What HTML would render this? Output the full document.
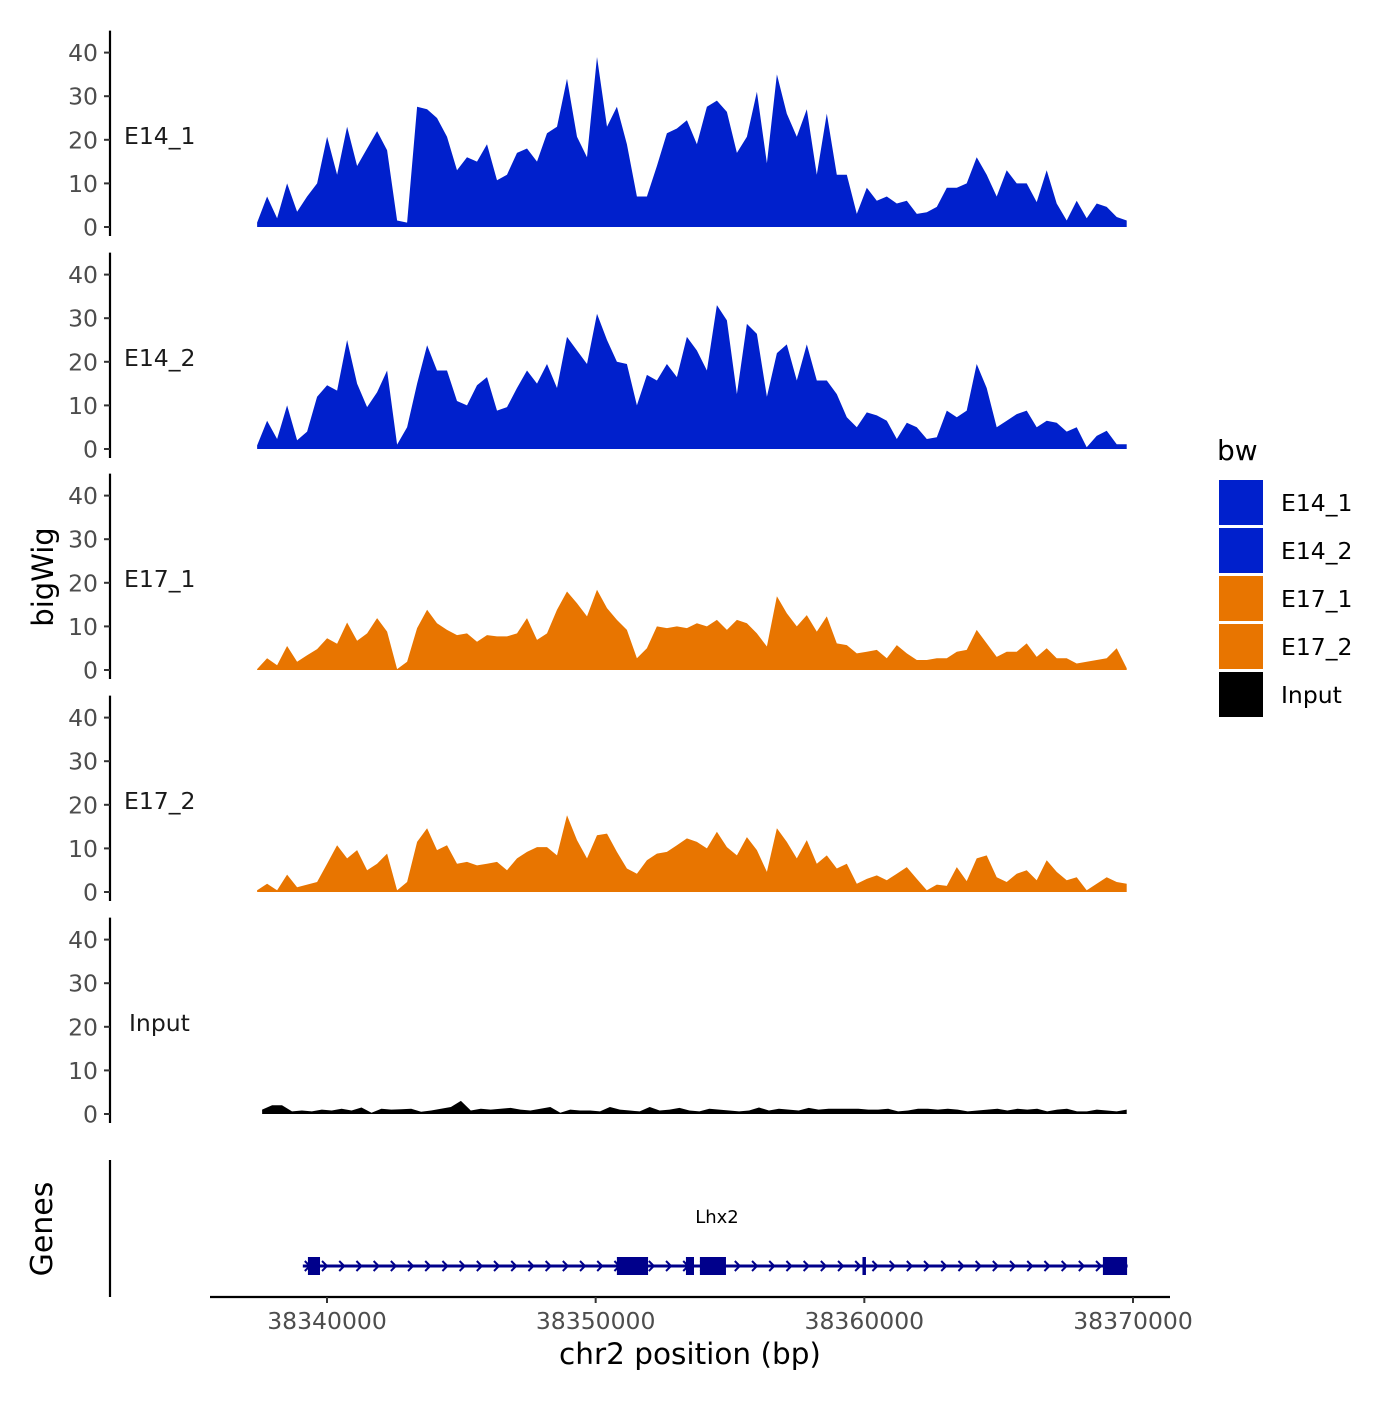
<!DOCTYPE html>
<html><head><meta charset="utf-8"><style>
body{margin:0;background:#fff}
svg text{font-family:"DejaVu Sans","Liberation Sans",sans-serif}
</style></head><body>
<svg id="chart" width="1400" height="1400" xmlns="http://www.w3.org/2000/svg"></svg>
<script>
const seriesNames = ["E14_1","E14_2","E17_1","E17_2","Input"];
const seriesColors = ["#0020CC","#0020CC","#E87500","#E87500","#000000"];
const binStart = 38337400;
const binSize = 372;
const e14_1 = [1,7,2,10,3.5,7,10,20.7,12,23,14,18,22,17.6,1.5,1,27.6,27,25,20.7,13,16,15,19,10.7,12,17,18,15,21.5,23,34,20.7,16,39,23,27.6,19,7,7,14,21.5,22.6,24.5,
19,27.6,29,26.4,17,20.7,31,14.6,35,26,20.7,27,12,26,12,12,3,9,6,7,5.4,6,3,3.4,4.6,9,9,10,16,12,7,13,10,10,5.7,13,5.4,1.5,6,2,5.4,4.6,2.3,1.5];
const e14_2 = [0.8,6.5,2.3,10,2,4,12,14.6,13.4,25,15,9.6,13,18,1,5,15,23.8,18,18,11,10,14.6,16.5,8.8,9.6,14,18,15,19.5,14,25.7,22.6,19.5,31,25,20,19.5,10,17,15.7,19.5,16.5,25.7,
22.6,18,33,29.5,12.6,28.7,26.4,12,22,24,15.7,24,15.7,15.7,12.6,7.3,5,8.4,7.7,6.5,2.3,6,5,2.3,2.7,8.8,7.3,8.8,19.5,14,5,6.5,8,8.8,5,6.5,6,4,5,0.4,3,4.2,1.1,1.1];
const e17_1 = [0.2,2.7,1.1,5.5,1.9,3.4,4.8,7.3,6,10.9,6.7,8.4,11.9,8.8,0.2,1.9,9.6,13.8,10.7,9.2,8,8.4,6.5,8,7.7,7.7,8.4,11.9,6.9,8.4,13.8,18,15.3,12.3,18.4,14.2,11.5,9.2,2.7,5,10,9.6,10,9.6,
10.7,10,11.5,9.2,11.5,10.7,8.4,5.4,16.9,13,10,12.6,8.8,12.3,6.1,5.7,3.8,4.2,4.6,2.7,5.7,3.8,2.3,2.3,2.7,2.7,4.2,4.6,9.2,6.1,3,4.2,4.2,6.1,3,5,2.7,2.7,1.5,1.9,2.3,2.7,5,0.4];
const e17_2 = [0.4,1.9,0.4,4,1.1,1.7,2.3,6.5,10.7,7.7,9.6,5,6.5,8.8,0.4,2.3,11.5,14.6,9.6,10.7,6.5,6.9,6.1,6.5,6.9,5,7.7,9.2,10.3,10.3,8.4,17.6,11.9,7.7,13,13.4,9.2,5.4,4.2,7.3,8.8,9.2,10.7,12.3,
11.5,10,13.8,10.3,8.4,12.6,9.6,4.6,14.6,11.5,7.7,11.9,6.5,8.4,5.4,6.5,1.9,3,3.8,2.7,4.2,5.7,3,0.4,1.7,1.4,5.7,2.5,7.7,8.4,3.4,2.3,4.2,5,2.7,7.3,4.6,2.7,3.4,0.4,1.9,3.4,2.3,1.9];
const inputVals = [1,2,2,0.6,0.8,0.6,1,0.8,1.2,0.8,1.5,0.3,1.2,1,1.1,1.2,0.5,0.8,1.2,1.6,3,0.8,1.2,1,1.2,1.4,1,0.8,1.2,1.6,0.3,1,0.8,0.8,0.6,1.6,1,0.8,0.6,1.6,0.8,1,1.4,0.8,
0.6,1.2,1,0.8,0.6,0.8,1.5,0.8,1.2,1,0.8,1.4,1,1.2,1.2,1.2,1.2,1,1,1.2,0.6,0.8,1.2,1.2,1,1.2,1,0.6,0.8,1,1.2,0.8,1.2,1,1.2,0.6,1,1.2,0.6,0.6,1,0.8,0.6,1];
const allSeries = [e14_1,e14_2,e17_1,e17_2,inputVals];
const yTicks = [0,10,20,30,40];
const xTicks = [38340000,38350000,38360000,38370000];
const xTickLabels = ["38340000","38350000","38360000","38370000"];
const geneName = "Lhx2";
const geneStart = 38339100, geneEnd = 38369800;
const exonStarts = [38339290,38350790,38353360,38353880,38359930,38368880];
const exonEnds   = [38339740,38351950,38353660,38354850,38360060,38369780];

const NS="http://www.w3.org/2000/svg";
const svg=document.getElementById('chart');
function mk(tag,attrs,parent){const e=document.createElementNS(NS,tag);for(const k in attrs)e.setAttribute(k,attrs[k]);(parent||svg).appendChild(e);return e;}
const xScale = bp => 327 + (bp-38340000)*(1133-327)/30000;
const baselines=[227,449,670,892,1114];
const pxPerUnit=4.36;
const yScale=(p,v)=>baselines[p]-v*pxPerUnit;

allSeries.forEach((vals,p)=>{
  const g=mk('g',{});
  
  
  const ax=mk('line',{x1:110,y1:yScale(p,40)-22,x2:110,y2:baselines[p]+9,stroke:'#000','stroke-width':2.2},g);
  
  
  yTicks.forEach(t=>{
    const y=yScale(p,t);
    const tk=mk('line',{x1:104,y1:y,x2:110,y2:y,stroke:'#333','stroke-width':2},g);
    
    
    const tl=mk('text',{x:98,y:y+8.5,'text-anchor':'end','font-size':23.5,fill:'#4d4d4d'},g);
    tl.textContent=t;
    
    
  });
  const lab=mk('text',{x:seriesNames[p]==='Input'?129:124,y:yScale(p,21.5)+10.5,'font-size':23.5,fill:'#1a1a1a'},g);
  lab.textContent=seriesNames[p];
  
  
  const off = p===4?5:0;
  let d='M'+(xScale(binStart)+off)+','+baselines[p];
  vals.forEach((v,i)=>{d+=' L'+(xScale(binStart+i*binSize)+off*(1-i/(vals.length-1))).toFixed(1)+','+yScale(p,v).toFixed(1);});
  d+=' L'+xScale(binStart+(vals.length-1)*binSize).toFixed(1)+','+baselines[p]+' Z';
  const area=mk('path',{d:d,fill:seriesColors[p],'stroke-linejoin':'round'},g);
  
  
});

const yt=mk('text',{x:0,y:0,transform:'translate(53,577) rotate(-90)','text-anchor':'middle','font-size':29,fill:'#000'});
yt.textContent='bigWig';



const gg=mk('g',{});


const gax=mk('line',{x1:110,y1:1160,x2:110,y2:1297,stroke:'#000','stroke-width':2.2},gg);


const gt=mk('text',{x:0,y:0,transform:'translate(52,1229) rotate(-90)','text-anchor':'middle','font-size':30,fill:'#000'},gg);
gt.textContent='Genes';


const gl=mk('line',{x1:xScale(geneStart),y1:1266,x2:xScale(geneEnd),y2:1266,stroke:'#00008B','stroke-width':3},gg);


for(let x=xScale(geneStart)+2;x<xScale(geneEnd)-8;x+=17.2){
  const ar=mk('path',{d:`M${x},${1261} L${x+5},${1266} L${x},${1271}`,fill:'none',stroke:'#00008B','stroke-width':2},gg);
  
  
}
exonStarts.forEach((s,i)=>{
  const r=mk('rect',{x:xScale(s),y:1257,width:Math.max(3,xScale(exonEnds[i])-xScale(s)),height:18,fill:'#00008B'},gg);
  
  
});
const gn=mk('text',{x:717,y:1223,'text-anchor':'middle','font-size':18,fill:'#000'},gg);
gn.textContent=geneName;



const xa=mk('line',{x1:210,y1:1297,x2:1170,y2:1297,stroke:'#000','stroke-width':2.2});


xTicks.forEach((t,i)=>{
  const x=xScale(t);
  const tk=mk('line',{x1:x,y1:1297,x2:x,y2:1303,stroke:'#333','stroke-width':2});
  
  
  const tl=mk('text',{x:x,y:1329,'text-anchor':'middle','font-size':23.5,fill:'#4d4d4d'});
  tl.textContent=xTickLabels[i];
  
  
});
const xt=mk('text',{x:690,y:1364,'text-anchor':'middle','font-size':29.5,fill:'#000'});
xt.textContent='chr2 position (bp)';



const lg=mk('g',{});


const lt=mk('text',{x:1217,y:460,'font-size':28,fill:'#000'},lg);
lt.textContent='bw';


seriesNames.forEach((n,i)=>{
  const y=480+i*48;
  const r=mk('rect',{x:1219,y:y,width:44,height:45,fill:seriesColors[i]},lg);
  
  
  const t=mk('text',{x:1281,y:y+31,'font-size':23.5,fill:'#000'},lg);
  t.textContent=n;
  
  
});
</script>
</body></html>
